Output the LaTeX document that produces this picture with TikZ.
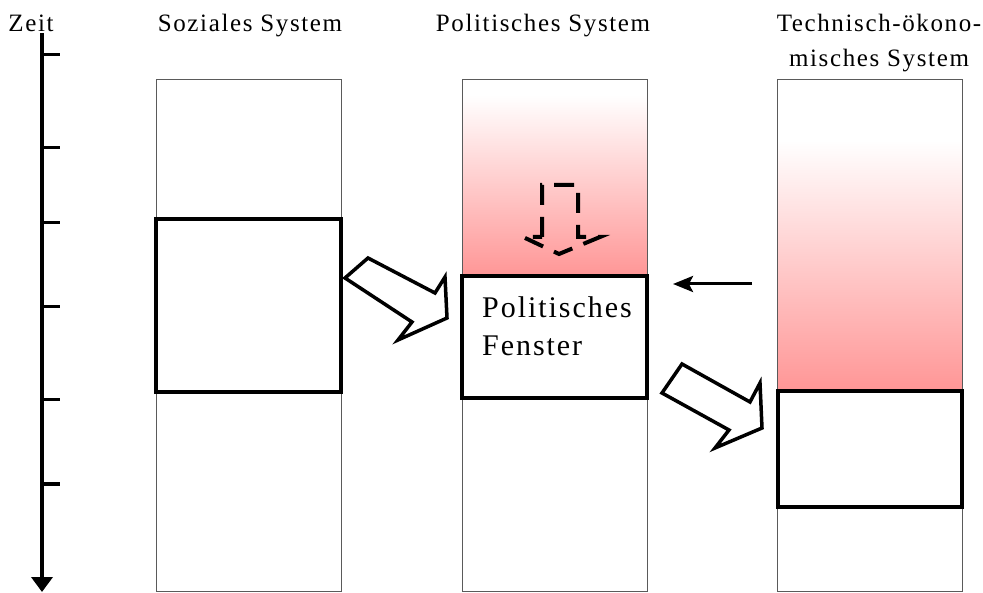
\documentclass[tikz,border=0pt]{standalone}
\usepackage{fontspec}
\setmainfont{Liberation Serif}[LetterSpace=6.5]
\usetikzlibrary{arrows.meta}
\definecolor{winpink}{RGB}{255,150,150}
\definecolor{colgray}{RGB}{90,90,90}
\tikzset{
  title/.style={anchor=base, font=\fontsize{25}{35}\selectfont, inner sep=0pt, align=center},
  column/.style={draw=colgray, line width=1pt, minimum width=185pt, minimum height=512.5pt, inner sep=0pt},
  window/.style={draw=black, line width=3.5pt, inner sep=0pt},
  tick/.style={line width=3pt},
  blockarrow/.style={draw=black, line width=3.5pt, fill=white, line join=miter},
  dasharrow/.style={draw=black, line width=4pt, dash pattern=on 20pt off 12pt},
}
\begin{document}
\begin{tikzpicture}[x=1pt,y=-1pt]
\useasboundingbox (0,0) rectangle (983,593);
% gradients
\shade[top color=white, bottom color=winpink] (462,95) rectangle (647,276);
\shade[top color=white, bottom color=winpink] (778,140) rectangle (962,391);
% columns
\node[column] (c1) at (248.5,335.5) {};
\node[column] (c2) at (554.5,335.5) {};
\node[column] (c3) at (870,335.5) {};
% windows
\node[window, minimum width=185pt, minimum height=173pt] (w1) at (248.5,305.5) {};
\node[window, minimum width=185pt, minimum height=122pt] (w2) at (554.5,337) {};
\node[window, minimum width=184pt, minimum height=116pt] (w3) at (870,449) {};
\node[anchor=base west, inner sep=0pt, align=left, font=\fontsize{30}{38}\selectfont] (wt) at (482,356) {Politisches\\Fenster};
% titles
\node[title] (tz) at (31,32) {Zeit};
\node[title] (t1) at (250,32) {Soziales System};
\node[title] (t2) at (543,32) {Politisches System};
\node[title] (t3) at (879,67) {Technisch-ökono-\\misches System};
% time axis
\coordinate (ax0) at (42,33);
\coordinate (ax1) at (42,592);
\draw[line width=4.5pt, -{Triangle[length=15pt,width=21pt]}] (ax0) -- (ax1);
\foreach \y in {55,148,223,307,400,484} \draw[tick] (42,\y) -- (60,\y);
% block arrows
\draw[blockarrow] (368,258) -- (435,293) -- (445,277) -- (447,318) -- (398,340) -- (412,322) -- (345,278) -- cycle;
\draw[blockarrow] (682,364) -- (750,402) -- (760,383) -- (762,428) -- (715,448) -- (729,430) -- (662,393) -- cycle;
% dashed arrow
\draw[dasharrow] (542,237) -- (542,185) -- (578,185) -- (578,237) -- (600,237) -- (559,254) -- (523,237) -- cycle;
% small arrow
\coordinate (sa0) at (752,284);
\coordinate (sa1) at (673,284);
\draw[line width=3pt, -{Stealth[length=20pt,width=16pt,inset=4pt]}] (sa0) -- (sa1);
\end{tikzpicture}
\end{document}
